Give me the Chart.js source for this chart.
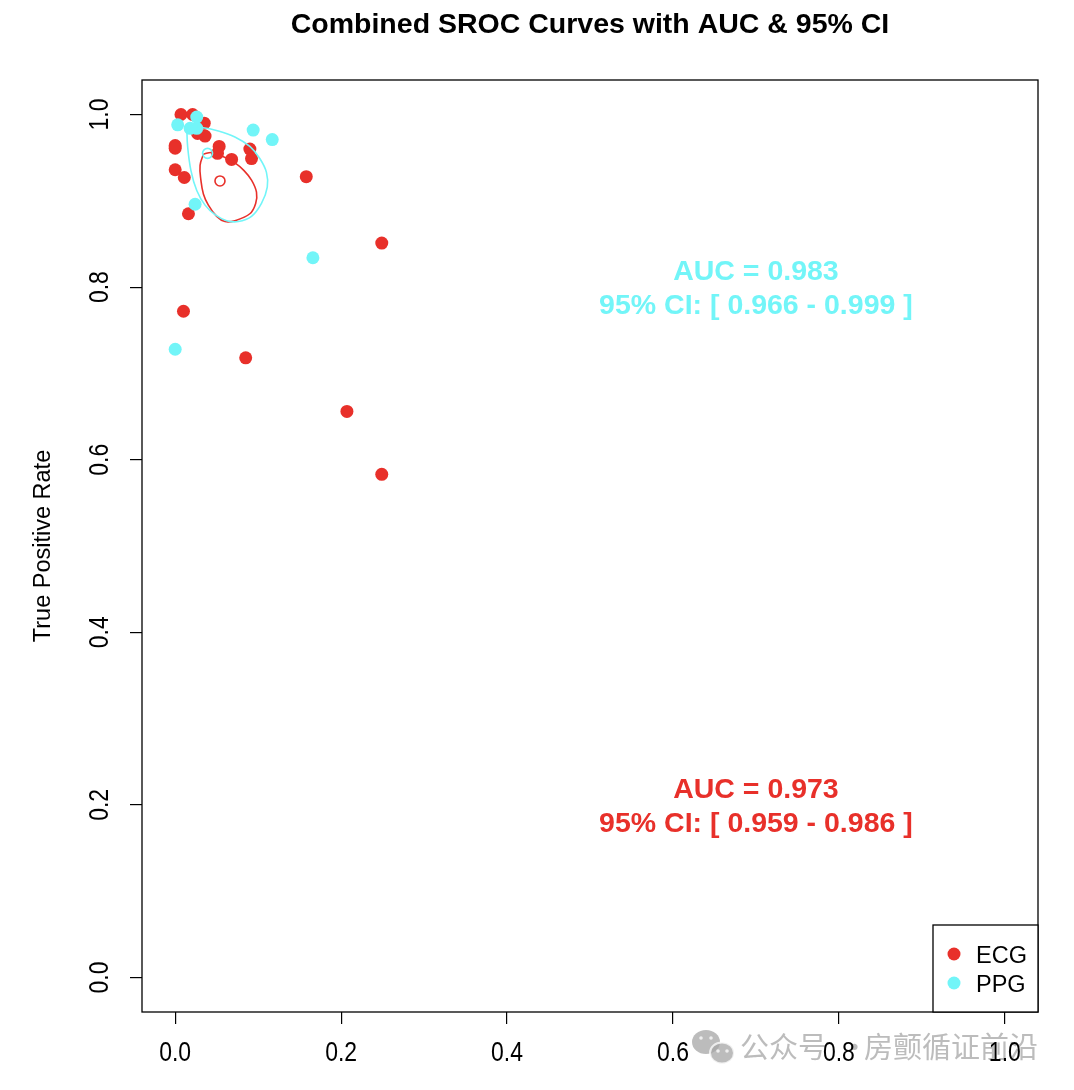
<!DOCTYPE html>
<html>
<head>
<meta charset="utf-8">
<title>Combined SROC Curves</title>
<script src="https://cdn.jsdelivr.net/npm/chart.js@4.4.1/dist/chart.umd.min.js"></script>
<style>
  html, body { margin: 0; padding: 0; background: #fff; }
  #wrap { position: relative; width: 1074px; height: 1090px; }
</style>
</head>
<body>
<div id="wrap"><canvas id="sroc"></canvas></div>
<script>
// study points, FPR (1 - specificity) vs TPR (sensitivity)
const ecgFpr = [0.007, 0.021, 0.035, 0.036, 0.027, 0.000, 0.000, 0.053, 0.051, 0.068, 0.090,
                0.092, 0.000, 0.011, 0.016, 0.158, 0.249, 0.010, 0.085, 0.207, 0.249];
const ecgTpr = [1.000, 1.000, 0.990, 0.975, 0.978, 0.964, 0.961, 0.963, 0.955, 0.948, 0.960,
                0.949, 0.936, 0.927, 0.885, 0.928, 0.851, 0.772, 0.718, 0.656, 0.583];
const ppgFpr = [0.026, 0.003, 0.018, 0.026, 0.094, 0.117, 0.024, 0.166, 0.000];
const ppgTpr = [0.997, 0.988, 0.984, 0.984, 0.982, 0.971, 0.896, 0.834, 0.728];

// summary (pooled) points
const ecgSummary = [0.054, 0.923];
const ppgSummary = [0.039, 0.955];

// 95% confidence regions, traced round the outline
const ecgRegionFpr = [0.034, 0.030, 0.031, 0.034, 0.040, 0.050, 0.060, 0.072, 0.090, 0.097,
                      0.098, 0.092, 0.083, 0.072, 0.056, 0.044];
const ecgRegionTpr = [0.954, 0.941, 0.924, 0.908, 0.895, 0.882, 0.876, 0.877, 0.885, 0.897,
                      0.910, 0.924, 0.935, 0.944, 0.952, 0.956];
const ppgRegionFpr = [0.014, 0.015, 0.019, 0.026, 0.036, 0.048, 0.062, 0.076, 0.092, 0.104,
                      0.111, 0.110, 0.102, 0.090, 0.072, 0.052, 0.032, 0.018];
const ppgRegionTpr = [0.985, 0.963, 0.935, 0.912, 0.895, 0.884, 0.877, 0.876, 0.882, 0.897,
                      0.916, 0.933, 0.949, 0.963, 0.974, 0.981, 0.985, 0.986];

const groups = ['ECG', 'PPG'];
const ecgAucLines = ['AUC = 0.973', '95% CI: [ 0.959 - 0.986 ]'];
const ppgAucLines = ['AUC = 0.983', '95% CI: [ 0.966 - 0.999 ]'];

const xTicks = [0, 0.2, 0.4, 0.6, 0.8, 1.0];
const xTickLabels = ['0.0', '0.2', '0.4', '0.6', '0.8', '1.0'];
const yTicks = [0, 0.2, 0.4, 0.6, 0.8, 1.0];
const yTickLabels = ['0.0', '0.2', '0.4', '0.6', '0.8', '1.0'];

const RED = '#E8302A';
const CYAN = '#72F5F8';
const FONT = '"Liberation Sans", Arial, sans-serif';

function toPoints(xs, ys) {
  return xs.map((x, i) => ({ x: x, y: ys[i] }));
}
function closed(xs, ys) {
  const pts = toPoints(xs, ys);
  pts.push({ x: xs[0], y: ys[0] });
  return pts;
}

// R's axis labels look like Arial Narrow: squeeze Liberation Sans sideways
function narrowText(ctx, txt, x, y, angle) {
  ctx.save();
  ctx.translate(x, y);
  ctx.rotate(angle);
  ctx.scale(0.82, 1);
  ctx.textAlign = 'center';
  ctx.textBaseline = 'alphabetic';
  ctx.fillText(txt, 0, 10);
  ctx.restore();
}

const rDecor = {
  id: 'rDecor',
  afterDraw(chart) {
    const { ctx, chartArea: a, scales } = chart;
    const sx = scales.x, sy = scales.y;
    const cx = (a.left + a.right) / 2;
    ctx.save();

    // plot box
    ctx.strokeStyle = '#000';
    ctx.lineWidth = 1.3;
    ctx.strokeRect(a.left, a.top, a.right - a.left, a.bottom - a.top);

    // title
    ctx.fillStyle = '#000';
    ctx.font = 'bold 28.5px ' + FONT;
    ctx.textAlign = 'center';
    ctx.textBaseline = 'alphabetic';
    ctx.fillText('Combined SROC Curves with AUC & 95% CI', cx, 33);

    // y axis title
    ctx.save();
    ctx.translate(50, (a.top + a.bottom) / 2);
    ctx.rotate(-Math.PI / 2);
    ctx.font = '23.5px ' + FONT;
    ctx.fillText('True Positive Rate', 0, 0);
    ctx.restore();

    // watermark (under the tick labels)
    ctx.save();
    ctx.globalAlpha = 0.75;
    ctx.fillStyle = '#A6A6A6';
    ctx.beginPath(); ctx.ellipse(706, 1042, 14, 12, 0, 0, Math.PI * 2); ctx.fill();
    ctx.strokeStyle = '#fff'; ctx.lineWidth = 2;
    ctx.beginPath(); ctx.ellipse(722, 1053, 12, 10.5, 0, 0, Math.PI * 2); ctx.fill(); ctx.stroke();
    ctx.fillStyle = '#fff';
    [[701, 1038], [711, 1038], [718, 1051], [727, 1051]].forEach(p => {
      ctx.beginPath(); ctx.arc(p[0], p[1], 1.8, 0, Math.PI * 2); ctx.fill();
    });
    ctx.fillStyle = '#A6A6A6';
    ctx.font = '29px "Noto Sans CJK SC", sans-serif';
    ctx.textAlign = 'left';
    ctx.fillText('公众号', 740, 1058);
    ctx.fillText('·', 840, 1058);
    ctx.fillText('房颤循证前沿', 864, 1058);
    ctx.restore();

    // tick labels
    ctx.fillStyle = '#000';
    ctx.font = '28px ' + FONT;
    xTicks.forEach((v, i) => narrowText(ctx, xTickLabels[i], sx.getPixelForValue(v), 1051, 0));
    yTicks.forEach((v, i) => narrowText(ctx, yTickLabels[i], 98, sy.getPixelForValue(v), -Math.PI / 2));

    // AUC annotations
    ctx.font = 'bold 28.5px ' + FONT;
    ctx.textAlign = 'center';
    const notes = [[ppgAucLines, CYAN, 0.7, 0.8], [ecgAucLines, RED, 0.7, 0.2]];
    notes.forEach(([lines, col, nx, ny]) => {
      const px = sx.getPixelForValue(nx), py = sy.getPixelForValue(ny);
      ctx.fillStyle = col;
      ctx.fillText(lines[0], px, py - 7);
      ctx.fillText(lines[1], px, py + 27);
    });

    // legend, bottom right (R style box)
    const lw = 105, lh = 87;
    ctx.fillStyle = '#fff';
    ctx.fillRect(a.right - lw, a.bottom - lh, lw, lh);
    ctx.strokeStyle = '#000';
    ctx.lineWidth = 1.3;
    ctx.strokeRect(a.right - lw, a.bottom - lh, lw, lh);
    ctx.font = '23.5px ' + FONT;
    ctx.textAlign = 'left';
    [RED, CYAN].forEach((col, i) => {
      const ly = a.bottom - 58 + i * 29;
      ctx.fillStyle = col;
      ctx.beginPath(); ctx.arc(a.right - 84, ly, 6.5, 0, Math.PI * 2); ctx.fill();
      ctx.fillStyle = '#000';
      ctx.fillText(groups[i], a.right - 62, ly + 8.5);
    });

    ctx.restore();
  }
};

const axisCommon = {
  type: 'linear',
  min: -0.04,
  max: 1.04,
  ticks: { display: false },
  grid: { display: true, drawOnChartArea: false, drawTicks: true, tickLength: 12, color: '#000', lineWidth: 1.2 },
  border: { display: false }
};

new Chart(document.getElementById('sroc'), {
  type: 'scatter',
  data: {
    datasets: [
      {
        label: 'ECG',
        data: toPoints(ecgFpr, ecgTpr),
        pointRadius: 6.5,
        pointBorderWidth: 0,
        pointBackgroundColor: RED,
        order: 6
      },
      {
        label: 'ECG region',
        data: closed(ecgRegionFpr, ecgRegionTpr),
        showLine: true,
        pointRadius: 0,
        borderColor: RED,
        borderWidth: 1.6,
        tension: 0.4,
        fill: false,
        order: 5
      },
      {
        label: 'ECG summary',
        data: [{ x: ecgSummary[0], y: ecgSummary[1] }],
        pointRadius: 5,
        pointBorderWidth: 1.6,
        pointBorderColor: RED,
        pointBackgroundColor: 'rgba(0,0,0,0)',
        order: 4
      },
      {
        label: 'PPG',
        data: toPoints(ppgFpr, ppgTpr),
        pointRadius: 6.5,
        pointBorderWidth: 0,
        pointBackgroundColor: CYAN,
        order: 3
      },
      {
        label: 'PPG region',
        data: closed(ppgRegionFpr, ppgRegionTpr),
        showLine: true,
        pointRadius: 0,
        borderColor: CYAN,
        borderWidth: 1.6,
        tension: 0.4,
        fill: false,
        order: 2
      },
      {
        label: 'PPG summary',
        data: [{ x: ppgSummary[0], y: ppgSummary[1] }],
        pointRadius: 5,
        pointBorderWidth: 1.6,
        pointBorderColor: CYAN,
        pointBackgroundColor: 'rgba(0,0,0,0)',
        order: 1
      }
    ]
  },
  options: {
    responsive: true,
    maintainAspectRatio: false,
    animation: false,
    events: [],
    layout: { padding: { top: 80, right: 36, left: 0, bottom: 0 } },
    plugins: { legend: { display: false }, tooltip: { enabled: false }, title: { display: false } },
    scales: {
      x: Object.assign({}, axisCommon, {
        position: 'bottom',
        afterBuildTicks: (s) => { s.ticks = xTicks.map(v => ({ value: v })); },
        afterFit: (s) => { s.height = 78; }
      }),
      y: Object.assign({}, axisCommon, {
        position: 'left',
        afterBuildTicks: (s) => { s.ticks = yTicks.map(v => ({ value: v })); },
        afterFit: (s) => { s.height; s.width = 142; }
      })
    }
  },
  plugins: [rDecor]
});
</script>
</body>
</html>
